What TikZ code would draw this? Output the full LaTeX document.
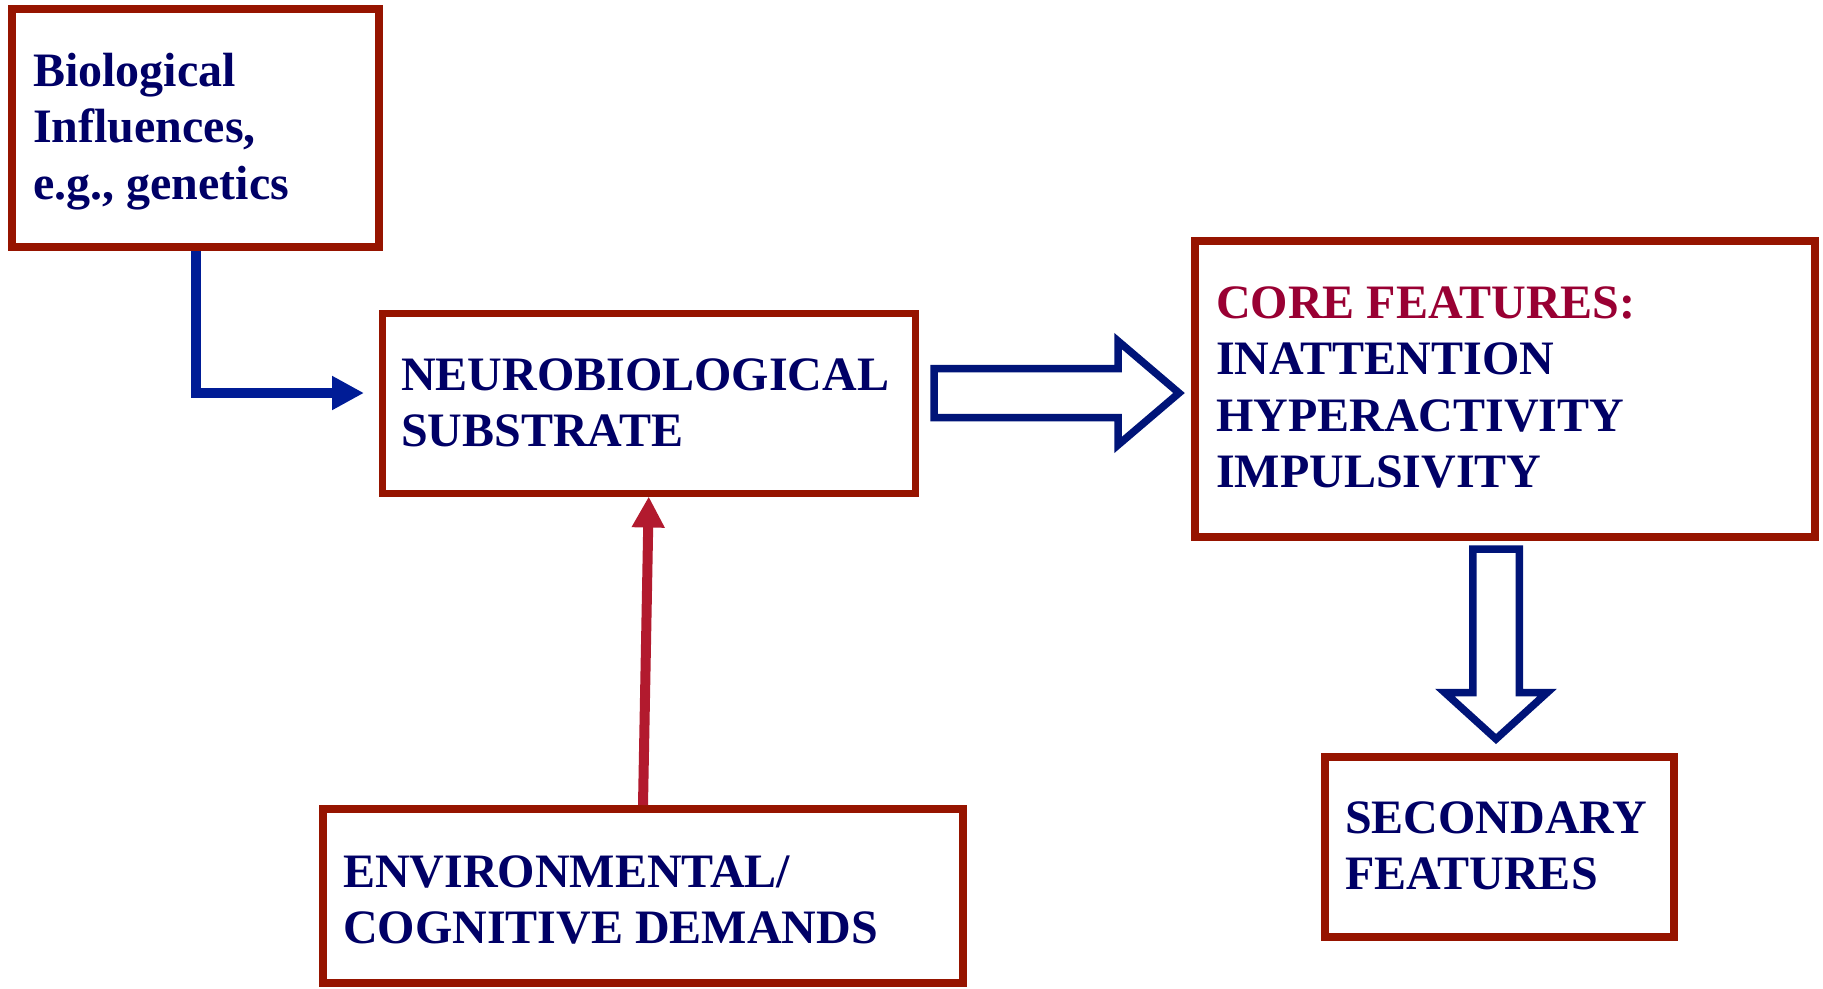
\documentclass[tikz,border=0pt]{standalone}
\usepackage{fontspec}
\setmainfont{Liberation Serif}
\usetikzlibrary{arrows.meta}

\definecolor{boxred}{RGB}{150,20,0}
\definecolor{textnavy}{RGB}{0,0,102}
\definecolor{corered}{RGB}{153,0,51}
\definecolor{arrowred}{RGB}{178,26,46}
\definecolor{elbowblue}{RGB}{0,28,150}
\definecolor{hollowblue}{RGB}{0,20,120}

\tikzset{
  panel/.style={draw=boxred, line width=8pt, rectangle, inner sep=0pt, fill=white},
  caption/.style={anchor=base west, inner sep=0pt, text=textnavy,
    font=\fontsize{48}{56.5}\selectfont\bfseries},
  elbowarrow/.style={draw=elbowblue, line width=10pt,
    -{Triangle[length=32pt, width=32pt]}},
  pusharrow/.style={draw=arrowred, line width=10pt,
    -{Triangle[length=31pt, width=31pt]}},
  hollowarrow/.style={draw=hollowblue, line width=7.5pt, fill=white, line join=miter},
}

\begin{document}
\begin{tikzpicture}[x=1pt, y=-1pt]
  \useasboundingbox (0,0) rectangle (1823,988);

  % boxes
  \node[panel, minimum width=367pt, minimum height=238pt] (bio) at (195.5,128) {};
  \node[panel, line width=7pt, minimum width=533.5pt, minimum height=180pt] (neuro) at (648.75,403) {};
  \node[panel, minimum width=620pt, minimum height=296pt] (core) at (1505,389) {};
  \node[panel, minimum width=640pt, minimum height=174pt] (env) at (643,896) {};
  \node[panel, minimum width=349pt, minimum height=180pt] (sec) at (1499.5,847) {};

  % box texts
  \node[caption] (biotext) at (33,86)
    {\vtop{\hbox{Biological}\hbox{Influences,}\hbox{e.g., genetics}}};
  \node[caption] (neurotext) at (401,390)
    {\vtop{\hbox{NEUROBIOLOGICAL}\hbox{SUBSTRATE}}};
  \node[caption] (coretext) at (1216,318)
    {\vtop{\hbox{\textcolor{corered}{CORE FEATURES:}}\hbox{INATTENTION}\hbox{HYPERACTIVITY}\hbox{IMPULSIVITY}}};
  \node[caption] (envtext) at (343,887)
    {\vtop{\hbox{ENVIRONMENTAL/}\hbox{COGNITIVE DEMANDS}}};
  \node[caption] (sectext) at (1345,833)
    {\vtop{\hbox{SECONDARY}\hbox{FEATURES}}};

  % biological influences feed the substrate
  \draw[elbowarrow, shorten >=14.5pt] (bio.south) |- ([yshift=10pt]neuro.west);

  % environmental demands act on the substrate
  \draw[pusharrow] (env.north) -- (neuro.south);

  % hollow block arrows
  \coordinate (rt) at ([xshift=15pt, yshift=10pt]neuro.east);
  \draw[hollowarrow] (rt) ++(0,-24.5) -- ++(184,0) -- ++(0,-27.5) -- ++(61,52)
    -- ++(-61,52) -- ++(0,-27.5) -- ++(-184,0) -- cycle;

  \coordinate (dt) at ([xshift=-9pt, yshift=-8pt]core.south);
  \draw[hollowarrow] (dt) ++(-23.25,0) -- ++(0,143.5) -- ++(-28,0) -- ++(51.25,46.5)
    -- ++(51.25,-46.5) -- ++(-28,0) -- ++(0,-143.5) -- cycle;
\end{tikzpicture}
\end{document}
